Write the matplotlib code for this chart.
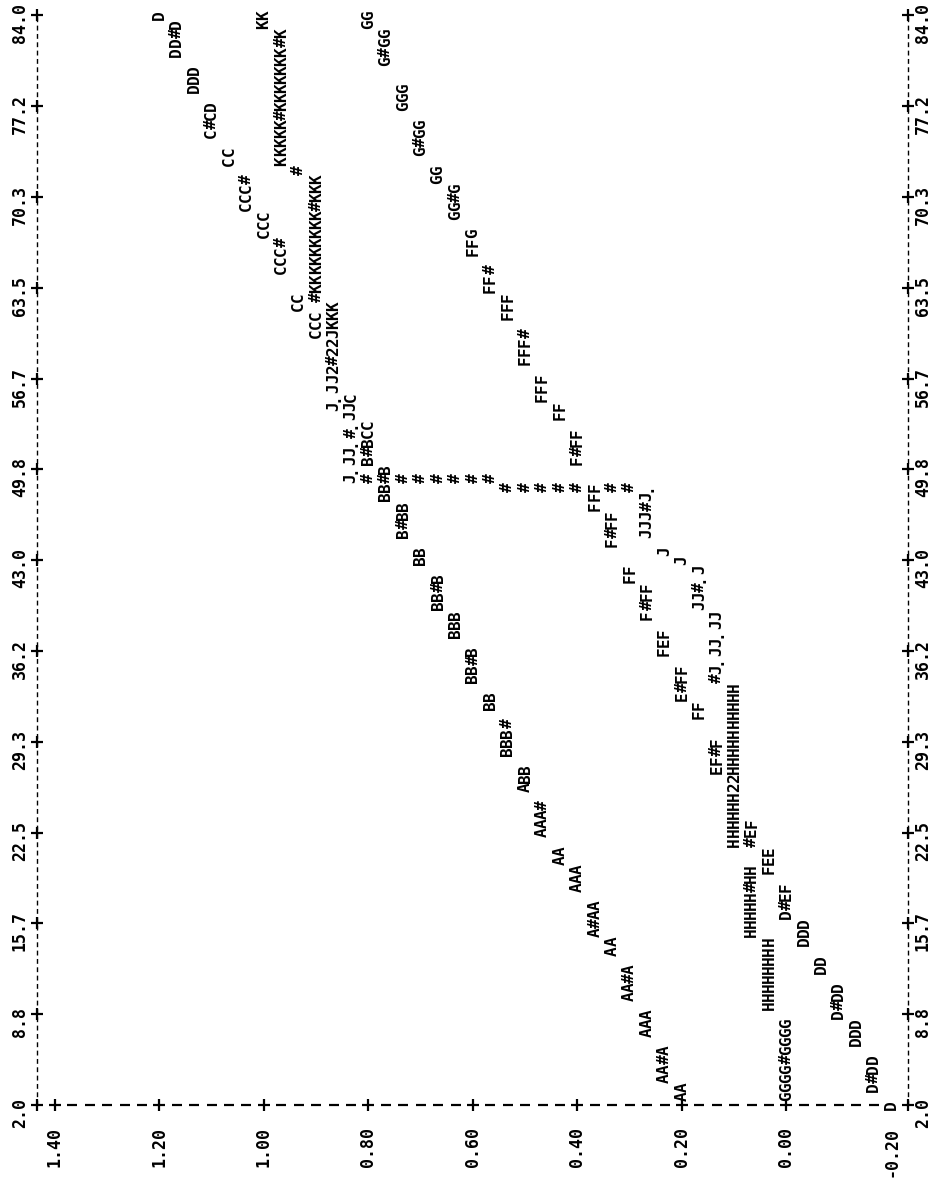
import numpy as np
import matplotlib.pyplot as plt

# line-printer plot, page turned on its side:
# time runs up the page (121 print columns), value runs across (48 print lines)
t_first, t_last = 2.0, 84.0
t_step = (t_last - t_first) / 120
v_top, v_bottom = 1.40, -0.20
v_step = (v_top - v_bottom) / 48

time_ticks = ["2.0", "8.8", "15.7", "22.5", "29.3", "36.2", "43.0",
              "49.8", "56.7", "63.5", "70.3", "77.2", "84.0"]
value_ticks = ["1.40", "1.20", "1.00", "0.80", "0.60", "0.40", "0.20",
               "0.00", "-0.20"]

# each run: print line value, time of first character, characters printed
upper_val = [0.200, 0.233, 0.267, 0.300, 0.333, 0.367, 0.400, 0.433, 0.467,
             0.500, 0.533, 0.567, 0.600, 0.633, 0.667, 0.700, 0.733, 0.767,
             0.800, 0.900, 0.933, 0.967, 1.000, 1.033, 1.067, 1.100, 1.133,
             1.167, 1.200]
upper_t = [2.68, 4.05, 7.47, 10.20, 13.62, 14.98, 18.40, 20.45, 22.50,
           25.92, 28.65, 32.07, 34.12, 37.53, 39.58, 43.00, 45.05, 47.78,
           50.52, 60.08, 62.13, 64.87, 67.60, 69.65, 73.07, 75.12, 78.53,
           81.27, 84.00]
upper_txt = ["AA", "AA#A", "AAA", "AA#A", "AA", "A#AA", "AAA", "AA", "AAA#",
             "ABB", "BBB#", "BB", "BB#B", "BBB", "BB#B", "BB", "B#BB", "BB#B",
             "B#BCC", "CCC", "CC", "CCC#", "CCC", "CCC#", "CC", "C#CD", "DDD",
             "DD#D", "D"]

middle_val = [0.000, 0.033, 0.067, 0.100, 0.133, 0.167, 0.200, 0.233, 0.267,
              0.833, 0.867, 0.900, 0.933, 0.967, 1.000]
middle_t = [2.68, 9.52, 14.98, 21.82, 34.12, 39.58, 43.00, 43.68, 45.05,
            49.15, 54.62, 62.82, 72.38, 73.07, 83.32]
middle_txt = ["GGGG#GGGG", "HHHHHHHH", "HHHHH#HH", "HHHHHH22HHHHHHHHHH",
              "#J.JJ.JJ", "JJ#.J", "J", "J", "JJJ#J.", "J.JJ.#.JJC",
              "J.JJ2#22JKKK", "#KKKKKKKKK#KKK", "#", "KKKKK#KKKKKKK#K", "KK"]

lower_val = [-0.200, -0.167, -0.133, -0.100, -0.067, -0.033, 0.000, 0.033,
             0.067, 0.133, 0.167, 0.200, 0.233, 0.267, 0.300, 0.333, 0.367,
             0.400, 0.433, 0.467, 0.500, 0.533, 0.567, 0.600, 0.633, 0.667,
             0.700, 0.733, 0.767, 0.800]
lower_t = [2.00, 3.37, 6.78, 8.83, 12.25, 14.30, 16.35, 19.77, 21.82, 27.28,
           31.38, 32.75, 36.17, 38.90, 41.63, 44.37, 47.10, 50.52, 53.93,
           55.30, 58.03, 61.45, 63.50, 66.23, 68.97, 71.70, 73.75, 77.17,
           80.58, 83.32]
lower_txt = ["D", "D#DD", "DDD", "D#DD", "DD", "DDD", "D#EF", "FEE", "#EF",
             "EF#F", "FF", "E#FF", "FEF", "F#FF", "FF", "F#FF", "FFF", "F#FF",
             "FF", "FFF", "FFF#", "FFF", "FF#", "FFG", "GG#G", "GG", "G#GG",
             "GGG", "G#GG", "GG"]

# vertical jump joining the J run to the upper curve
link_val = [0.800, 0.733, 0.700, 0.667, 0.633, 0.600, 0.567,
            0.533, 0.500, 0.467, 0.433, 0.400, 0.333, 0.300]
link_t = [49.15, 49.15, 49.15, 49.15, 49.15, 49.15, 49.15,
          48.47, 48.47, 48.47, 48.47, 48.47, 48.47, 48.47]

fig = plt.figure(figsize=(9.37, 11.80), dpi=100)
ax = fig.add_axes([0, 0, 1, 1])
ax.set_xlim(1.505, -0.288)
ax.set_ylim(-3.64, 85.16)
ax.axis("off")

char_style = dict(rotation=90, ha="center", va="center", fontsize=11.5,
                  family="DejaVu Sans Mono", fontweight="bold", color="black")
label_style = dict(rotation=90, ha="center", fontsize=12,
                   family="DejaVu Sans Mono", fontweight="bold", color="black")


def snap_v(v):
    return v_top - np.rint((v_top - v) / v_step) * v_step


def snap_col(t):
    return int(np.rint((t - t_first) / t_step))


used_bottom = set()
for vals, starts, texts in [(upper_val, upper_t, upper_txt),
                            (middle_val, middle_t, middle_txt),
                            (lower_val, lower_t, lower_txt)]:
    for v, t0, s in zip(vals, starts, texts):
        col = snap_col(t0)
        for i, ch in enumerate(s):
            if col + i == 0:
                used_bottom.add(round(snap_v(v), 3))
            ax.text(snap_v(v), t_first + (col + i) * t_step, ch, **char_style)

for v, t0 in zip(link_val, link_t):
    ax.text(snap_v(v), t_first + snap_col(t0) * t_step, "#", **char_style)

# value axis printed along the first column
for line in range(49):
    v = v_top - line * v_step
    if round(v, 3) in used_bottom:
        continue
    if line % 6 == 0:
        ax.plot(v, t_first, marker="+", ms=8, mew=1.6, color="black")
    else:
        ax.plot(v, t_first, marker="_", ms=7, mew=1.6, color="black")

# time rulers on both sides
tick_t = t_first + np.arange(len(time_ticks)) * 10 * t_step
for rv, lv in [(v_top + v_step, 1.467), (v_bottom - v_step, -0.261)]:
    ax.plot([rv, rv], [t_first, t_last], color="black", lw=1.0,
            ls=(0, (3.5, 2.5)))
    ax.plot(np.full(len(tick_t), rv), tick_t, ls="none", marker="+",
            ms=8, mew=1.6, color="black")
    for t, lab in zip(tick_t, time_ticks):
        ax.text(lv, t - 0.6, lab, va="center", **label_style)

for i, lab in enumerate(value_ticks):
    ax.text(v_top - i * 6 * v_step, 0.34, lab, va="top", **label_style)

fig.savefig("out.png", dpi=100, facecolor="white")
